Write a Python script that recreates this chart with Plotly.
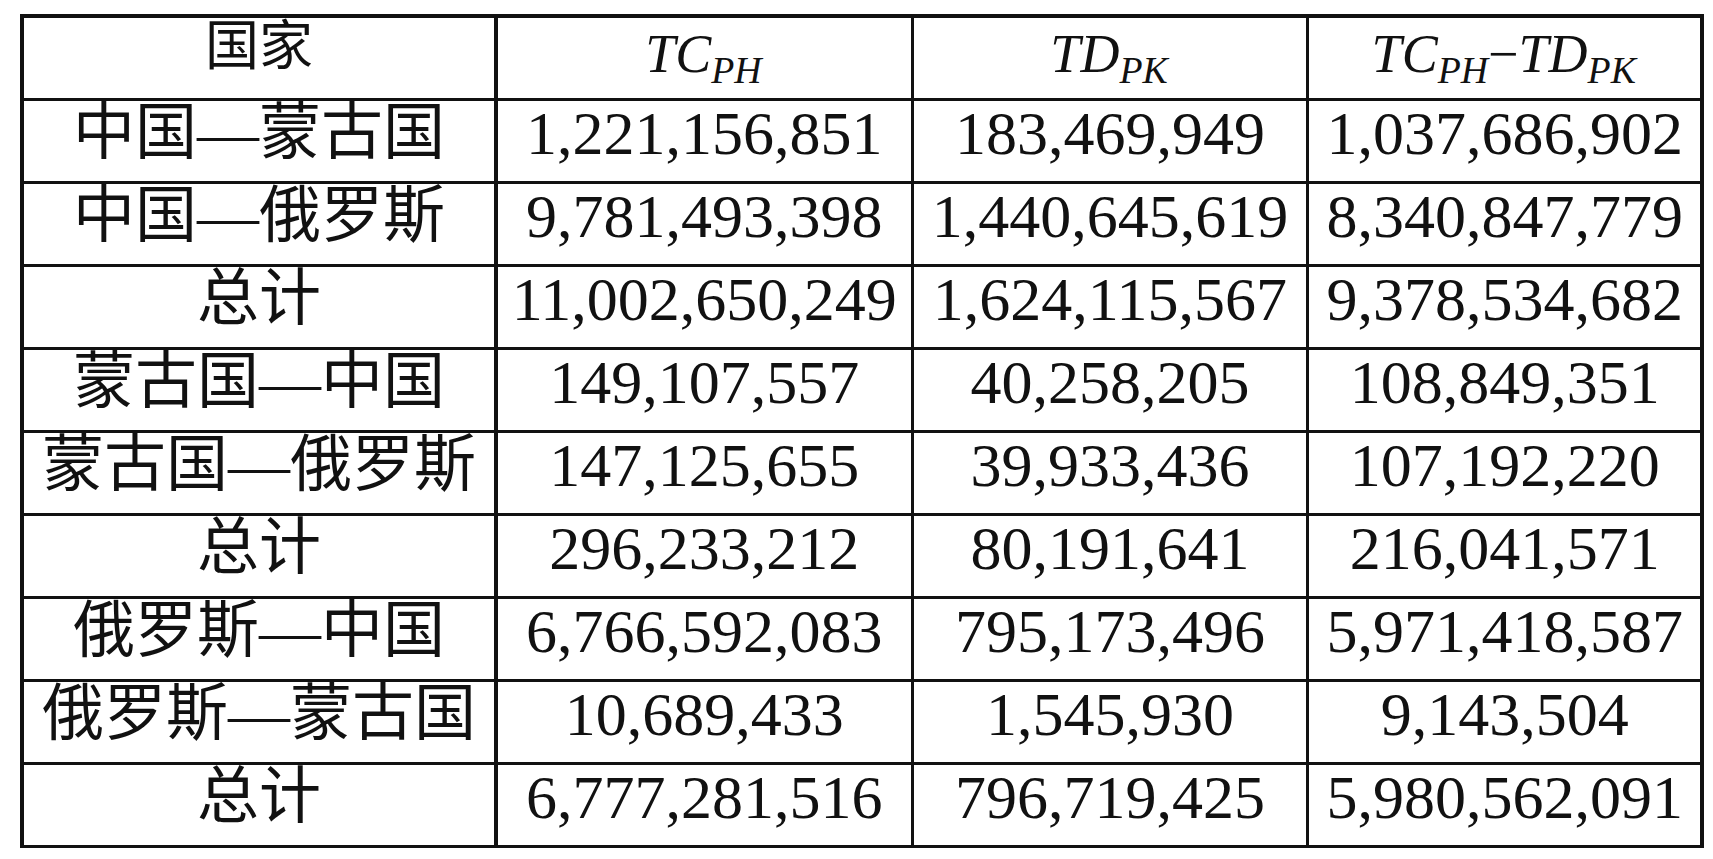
import plotly.graph_objects as go

# header labels (italic symbols with subscripts)
headers = [
    "国家",
    "<i>TC</i><sub><i>PH</i></sub>",
    "<i>TD</i><sub><i>PK</i></sub>",
    "<i>TC</i><sub><i>PH</i></sub>−<i>TD</i><sub><i>PK</i></sub>",
]

countries = [
    "中国—蒙古国", "中国—俄罗斯", "总计",
    "蒙古国—中国", "蒙古国—俄罗斯", "总计",
    "俄罗斯—中国", "俄罗斯—蒙古国", "总计",
]
tc_ph = [1221156851, 9781493398, 11002650249,
         149107557, 147125655, 296233212,
         6766592083, 10689433, 6777281516]
td_pk = [183469949, 1440645619, 1624115567,
         40258205, 39933436, 80191641,
         795173496, 1545930, 796719425]
diff = [1037686902, 8340847779, 9378534682,
        108849351, 107192220, 216041571,
        5971418587, 9143504, 5980562091]


def fmt(vals):
    return [f"{v:,}" for v in vals]


FONT = "Liberation Serif, Noto Sans CJK SC, serif"
INK = "#111111"

fig = go.Figure(go.Table(
    columnwidth=[431, 379, 359, 359],
    header=dict(
        values=headers,
        align="center",
        height=80,
        fill_color="white",
        line=dict(color=INK, width=3.5),
        font=dict(family=FONT, size=54, color=INK),
    ),
    cells=dict(
        values=[countries, fmt(tc_ph), fmt(td_pk), fmt(diff)],
        align="center",
        height=83,
        fill_color="white",
        line=dict(color=INK, width=3.5),
        font=dict(family=FONT, size=62, color=INK),
    ),
))

fig.update_layout(
    width=1713,
    height=859,
    margin=dict(l=14, r=19, t=8, b=8),
    paper_bgcolor="white",
)

fig.write_html("out.html")
